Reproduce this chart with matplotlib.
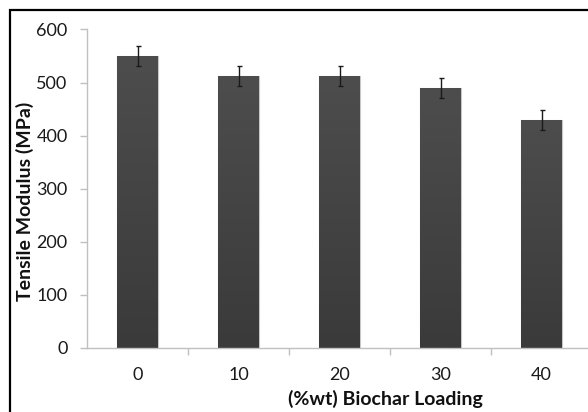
import matplotlib
matplotlib.use('Agg')
import matplotlib.pyplot as plt
import numpy as np
from matplotlib.patches import Rectangle

# data
loading = ['0', '10', '20', '30', '40']
modulus = [550, 512, 512, 490, 430]
modulus_err = [19, 19, 19, 19, 19]

plt.rcParams['font.family'] = ['Lato', 'DejaVu Sans']

W, H = 588, 412
fig = plt.figure(figsize=(W / 100, H / 100), dpi=100)

# plot area in pixels (right edge runs past the image, like the cropped original)
left, right, top, bottom = 87, 592, 29.5, 348
ax = fig.add_axes([left / W, 1 - bottom / H, (right - left) / W, (bottom - top) / H])

x = np.arange(len(loading))
bars = ax.bar(x, modulus, width=0.4, color='#444444', edgecolor='#c8c8c8',
              linewidth=0.8, zorder=2)

# slight vertical gradient on each bar (lighter at the top)
grad = np.linspace(0, 1, 256).reshape(-1, 1)
cmap = matplotlib.colors.LinearSegmentedColormap.from_list('g', ['#3a3a3a', '#4d4d4d'])
for b in bars:
    x0, w, h = b.get_x(), b.get_width(), b.get_height()
    im = ax.imshow(grad, extent=(x0, x0 + w, 0, h), origin='lower', aspect='auto',
                   cmap=cmap, zorder=2.5)
    im.set_clip_path(b)
ax.set_xlim(-0.5, 4.5)
ax.set_ylim(0, 600)

ax.errorbar(x, modulus, yerr=modulus_err, fmt='none', ecolor='#1a1a1a',
            elinewidth=1, capsize=1.8, capthick=1, zorder=3)

for s in ['top', 'right']:
    ax.spines[s].set_visible(False)
for s in ['left', 'bottom']:
    ax.spines[s].set_color('#c0c0c0')
    ax.spines[s].set_linewidth(1)

ax.set_yticks(np.arange(0, 601, 100))
ax.tick_params(axis='y', length=5, width=1, color='#c0c0c0', pad=9,
               labelsize=13, labelcolor='#1a1a1a')
ax.set_xticks(x)
ax.set_xticklabels(loading)
ax.tick_params(axis='x', which='major', length=0, pad=14, labelsize=13,
               labelcolor='#1a1a1a')
ax.set_xticks(np.arange(0.5, 5, 1), minor=True)
ax.tick_params(axis='x', which='minor', length=5, width=1, color='#c0c0c0')

fig.text(385 / W, 1 - 399 / H, '(%wt) Biochar Loading', ha='center', va='center',
         fontsize=14, fontweight='bold', color='#111111')
fig.text(25 / W, 1 - 201 / H, 'Tensile Modulus (MPa)', ha='center', va='center',
         rotation=90, fontsize=14, fontweight='bold', color='#111111')

# outer chart border (only top and left visible in the crop)
fig.patches.append(Rectangle((10 / W, -0.1), 1.2, 1 - 10 / H + 0.1,
                             transform=fig.transFigure, fill=False,
                             edgecolor='black', linewidth=1.6))

fig.savefig('out.png', dpi=100)
